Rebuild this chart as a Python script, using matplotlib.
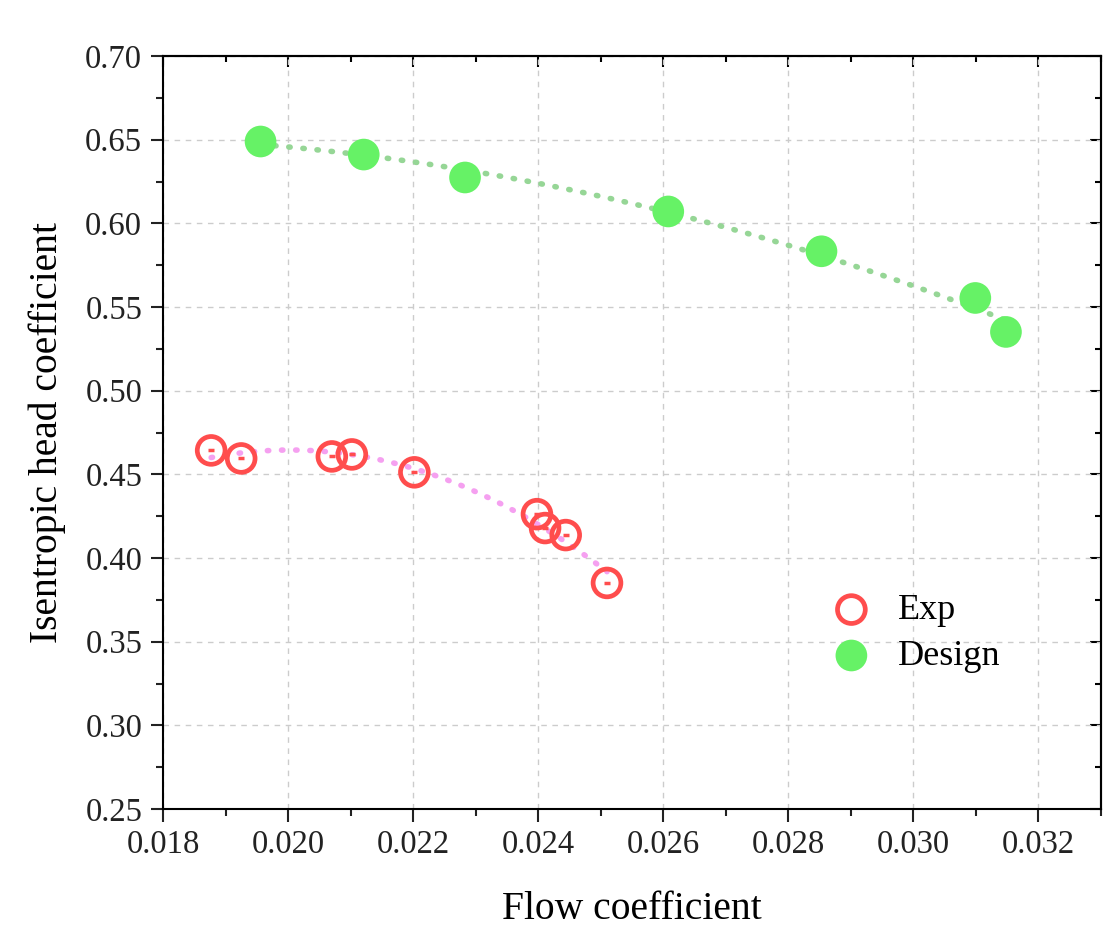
import numpy as np
import matplotlib.pyplot as plt
from matplotlib.ticker import MultipleLocator, FormatStrFormatter

# Experimental points
EXP_X = [0.01877, 0.01925, 0.02070, 0.02102, 0.02202, 0.02398, 0.02411, 0.02444, 0.02510]
EXP_Y = [0.4643, 0.4595, 0.4607, 0.4619, 0.4512, 0.4262, 0.4179, 0.4137, 0.3851]

# Design points
DESIGN_X = [0.01956, 0.02121, 0.02283, 0.02608, 0.02853, 0.03099, 0.03148]
DESIGN_Y = [0.6489, 0.6411, 0.6274, 0.6071, 0.5833, 0.5554, 0.5351]

EXP_COLOR = "#ff4d4d"
EXP_FIT_COLOR = "#f5a0f0"
DESIGN_COLOR = "#66f266"
DESIGN_FIT_COLOR = "#96d696"

plt.rcParams["font.family"] = ["Liberation Serif", "DejaVu Serif"]


def fit_curve(x, y, deg=2, n=100):
    """Polynomial fit through the points, evaluated over their x range."""
    coef = np.polyfit(x, y, deg)
    xs = np.linspace(min(x), max(x), n)
    return xs, np.polyval(coef, xs)


fig = plt.figure(figsize=(11.17, 9.52), dpi=100)
ax = fig.add_axes([163 / 1117, (952 - 809) / 952, 938 / 1117, 753 / 952])

# fitted curves
dots = (0, (0.25, 2.3))
xs, ys = fit_curve(EXP_X, EXP_Y)
ax.plot(xs, ys, color=EXP_FIT_COLOR, lw=4, ls=dots, dash_capstyle="round", zorder=2)
xs, ys = fit_curve(DESIGN_X, DESIGN_Y)
ax.plot(xs, ys, color=DESIGN_FIT_COLOR, lw=4, ls=dots, dash_capstyle="round", zorder=2)

# Exp: open circle with a dot in the middle
ax.scatter(EXP_X, EXP_Y, s=400, facecolor="none", edgecolor=EXP_COLOR,
           linewidth=3.4, zorder=3)
ax.scatter(EXP_X, EXP_Y, s=16, marker="_", color=EXP_COLOR, linewidth=2.5, zorder=3)
# Design: filled circle
ax.scatter(DESIGN_X, DESIGN_Y, s=520, color=DESIGN_COLOR, edgecolor="none", zorder=3)

ax.set_xlim(0.018, 0.033)
ax.set_ylim(0.25, 0.70)
ax.xaxis.set_major_locator(MultipleLocator(0.002))
ax.xaxis.set_minor_locator(MultipleLocator(0.001))
ax.yaxis.set_major_locator(MultipleLocator(0.05))
ax.yaxis.set_minor_locator(MultipleLocator(0.025))
ax.xaxis.set_major_formatter(FormatStrFormatter("%.3f"))
ax.yaxis.set_major_formatter(FormatStrFormatter("%.2f"))

# bottom/left: outward ticks with labels
ax.tick_params(which="both", direction="out", top=False, right=False, width=1.5,
               labelsize=23.5, colors="#222222")
ax.tick_params(which="major", length=9, pad=6)
ax.tick_params(which="minor", length=5)

# top/right: inward ticks, no labels
sec_x = ax.secondary_xaxis("top")
sec_x.xaxis.set_major_locator(MultipleLocator(0.002))
sec_x.xaxis.set_minor_locator(MultipleLocator(0.001))
sec_x.tick_params(which="both", direction="in", labeltop=False, width=1.5)
sec_x.tick_params(which="major", length=8)
sec_x.tick_params(which="minor", length=4)
sec_y = ax.secondary_yaxis("right")
sec_y.yaxis.set_major_locator(MultipleLocator(0.05))
sec_y.yaxis.set_minor_locator(MultipleLocator(0.025))
sec_y.tick_params(which="both", direction="in", labelright=False, width=1.5)
sec_y.tick_params(which="major", length=8)
sec_y.tick_params(which="minor", length=4)

for a in (ax, sec_x, sec_y):
    for sp in a.spines.values():
        sp.set_linewidth(1.5)

ax.grid(True, which="major", color="#cccccc", ls=(0, (4, 4)), lw=1.0)
ax.set_axisbelow(True)

ax.set_xlabel("Flow coefficient", fontsize=28.5, labelpad=22)
ax.set_ylabel("Isentropic head coefficient", fontsize=28.5, labelpad=14)

# legend
h_exp = ax.scatter([], [], s=400, facecolor="none", edgecolor=EXP_COLOR, linewidth=3.4)
h_des = ax.scatter([], [], s=520, color=DESIGN_COLOR, edgecolor="none")
ax.legend([h_exp, h_des], ["Exp", "Design"], loc="upper left",
          bbox_to_anchor=(0.68, 0.305), frameon=False, fontsize=26,
          handletextpad=0.3, labelspacing=0.35, borderaxespad=0)

plt.savefig("out.png", dpi=100)
plt.close()
